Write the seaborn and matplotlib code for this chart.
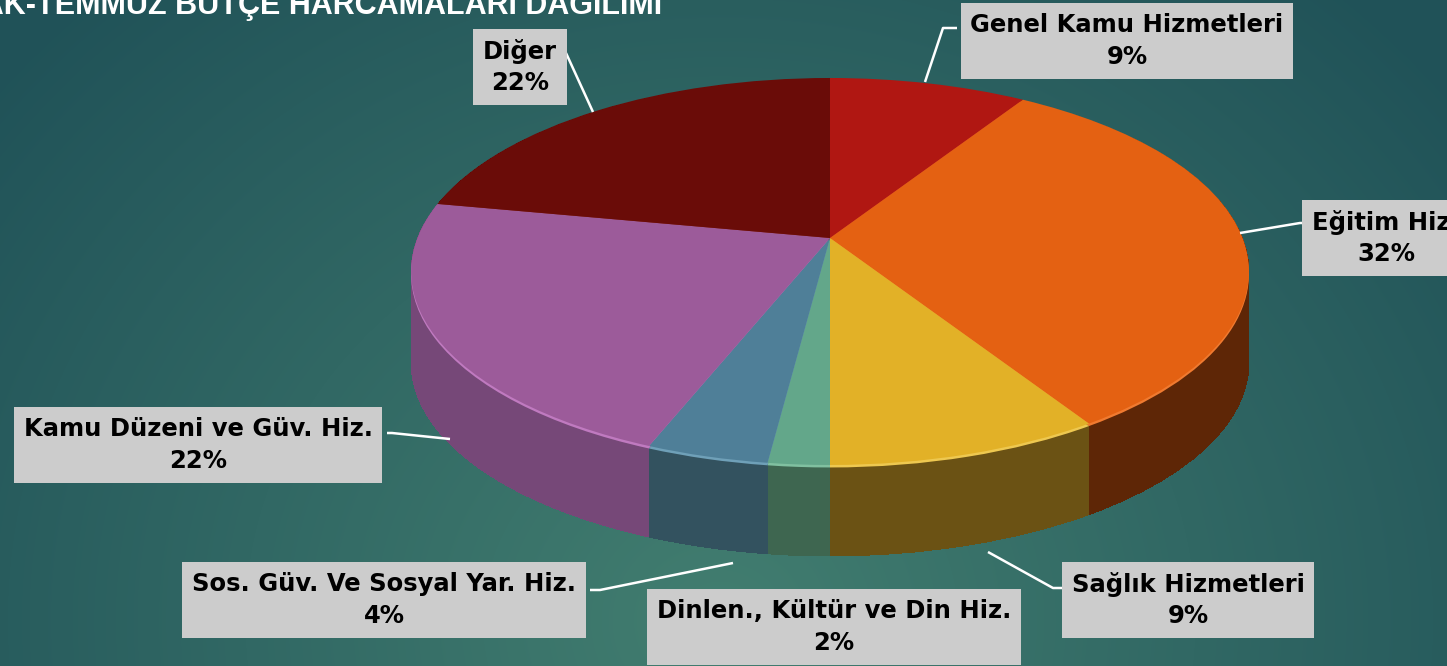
import numpy as np
import matplotlib
matplotlib.use("Agg")
import matplotlib.pyplot as plt
from matplotlib.transforms import Transform
import seaborn as sns

# ─────────────────────────────────────────
# DATA
# ─────────────────────────────────────────
categories = ["Genel Kamu Hizmetleri", "Eğitim Hiz.", "Sağlık Hizmetleri",
              "Dinlen., Kültür ve Din Hiz.", "Sos. Güv. Ve Sosyal Yar. Hiz.",
              "Kamu Düzeni ve Güv. Hiz.", "Diğer"]
shares = [9, 32, 9, 2, 4, 22, 22]
title = "OCAK-TEMMUZ BÜTÇE HARCAMALARI DAĞILIMI"

top_colors = ["#B01712", "#E46112", "#E2B127", "#63A78A", "#4F7F98", "#9C5B9A", "#6A0C08"]
side_colors = ["#6A0E0A", "#5E2606", "#6B5214", "#3E6650", "#33525F", "#764878", "#440705"]
rim_colors = ["#C8302A", "#F07A30", "#EEC850", "#80C0A0", "#6FA0B8", "#C07AC0", "#8A2A22"]

# label layout (pixel centres) and leader lines
label_pos = [(1127, 41), (1386, 238), (1188, 600), (834, 627), (384, 600), (198, 445), (520, 67)]
leaders = [
    [(957, 28), (943, 28), (925, 82)],
    [(1307, 223), (1300, 223), (1240, 233)],
    [(1064, 588), (1053, 588), (988, 552)],
    None,
    [(590, 590), (600, 590), (733, 563)],
    [(387, 433), (392, 433), (450, 439)],
    [(566, 53), (593, 112)],
]

W, H = 1447, 666
sns.set_theme(style="white")
plt.rcParams["font.family"] = ["DejaVu Sans"]

# perspective of the tilted pie (pixels, y down)
CX, APEX_Y, A, B, K = 830, 238, 412.6, 187.7, 0.173
DEPTH = 91


class Persp(Transform):
    """unit-circle pie coords -> tilted disc in pixel coords"""
    input_dims = output_dims = 2
    is_separable = False
    has_inverse = False

    def __init__(self, dy=0.0):
        super().__init__()
        self.dy = dy

    def transform_non_affine(self, values):
        values = np.asarray(values, float)
        u, v = values[:, 0], values[:, 1]
        den = 1 + K * v
        return np.column_stack([CX + A * u / den, APEX_Y + self.dy - B * v / den])


fig = plt.figure(figsize=(W / 100, H / 100), dpi=100)

# background gradient
bg = fig.add_axes([0, 0, 1, 1])
yy, xx = np.mgrid[0:H, 0:W]
dist = np.sqrt((xx - 720) ** 2 + ((yy - 620) / 0.9) ** 2)
t = np.clip(dist / 950, 0, 1)[..., None]
inner = np.array([0x42, 0x7E, 0x70]) / 255
outer = np.array([0x20, 0x52, 0x58]) / 255
bg.imshow(inner * (1 - t) + outer * t, extent=[0, W, H, 0], aspect="auto")
bg.axis("off")

# ─────────────────────────────────────────
# 3D PIE (stacked layers under a perspective transform)
# ─────────────────────────────────────────
ax = fig.add_axes([0, 0, 1, 1])
ax.patch.set_alpha(0)


def draw_layer(colors, dy, aa=True):
    wedges, _ = ax.pie(shares, colors=colors, startangle=90, counterclock=False,
                       radius=1, wedgeprops=dict(linewidth=0, antialiased=aa))
    for w in wedges:
        w.set_transform(Persp(dy) + ax.transData)


for d in range(DEPTH, 0, -1):
    draw_layer(side_colors, d, aa=False)
draw_layer(rim_colors, 2.5)
draw_layer(top_colors, 0)

ax.set_aspect("auto")
ax.set_xlim(0, W)
ax.set_ylim(H, 0)
ax.axis("off")

# ─────────────────────────────────────────
# LABELS
# ─────────────────────────────────────────
for pts in leaders:
    if pts is None:
        continue
    xs, ys = zip(*pts)
    ax.plot(xs, ys, color="white", lw=1.8, solid_capstyle="butt", clip_on=False)

for name, val, (x, y) in zip(categories, shares, label_pos):
    ax.text(x, y, f"{name}\n{val}%", ha="center", va="center", ma="center",
            fontsize=17.5, fontweight="bold", color="black", linespacing=1.4,
            bbox=dict(boxstyle="square,pad=0.4", fc="#CCCCCC", ec="none"),
            clip_on=False)

ax.text(662, 14, title, ha="right", va="baseline", fontsize=22, fontweight="bold",
        color="white", family=["Liberation Sans Narrow", "Liberation Sans", "DejaVu Sans"],
        clip_on=False)

fig.savefig("out.png", dpi=100)
